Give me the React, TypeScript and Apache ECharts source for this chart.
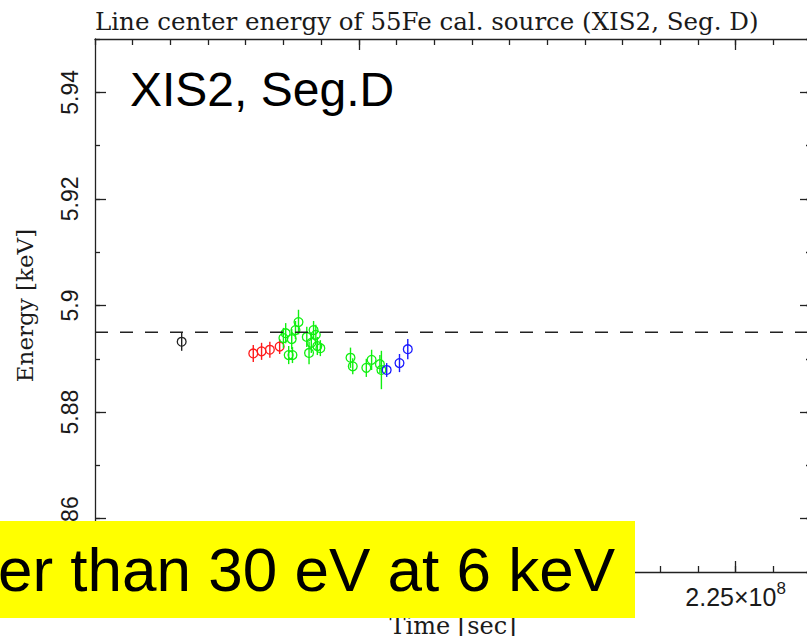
import React, { useEffect, useRef } from "react";
import * as echarts from "echarts";

// ---- data (time in seconds, energy in keV) ----
const blackTime = [217.65e6];
const blackEnergy = [5.8932];
const blackErr = [0.0017];

const redTime = [218.6e6, 218.71e6, 218.82e6, 218.95e6];
const redEnergy = [5.891, 5.8914, 5.8917, 5.8923];
const redErr = [0.0016, 0.0016, 0.0015, 0.0014];

const greenTime = [
  219.0e6, 219.03e6, 219.07e6, 219.11e6, 219.12e6, 219.16e6, 219.2e6, 219.31e6, 219.34e6, 219.37e6,
  219.4e6, 219.43e6, 219.45e6, 219.49e6, 219.89e6, 219.92e6, 220.1e6, 220.17e6, 220.28e6, 220.3e6,
];
const greenEnergy = [
  5.8939, 5.8948, 5.8907, 5.8937, 5.8907, 5.8954, 5.8969, 5.8941, 5.8911, 5.893,
  5.8954, 5.8945, 5.8924, 5.892, 5.8902, 5.8886, 5.8883, 5.8898, 5.889, 5.8879,
];
const greenErr = [
  0.0019, 0.0019, 0.0017, 0.0019, 0.0015, 0.0017, 0.0023, 0.0019, 0.0021, 0.0019,
  0.0017, 0.0019, 0.0017, 0.0015, 0.0019, 0.0015, 0.0017, 0.0019, 0.0017, 0.0036,
];

const blueTime = [220.37e6, 220.54e6, 220.65e6];
const blueEnergy = [5.8879, 5.8892, 5.8918];
const blueErr = [0.0013, 0.0017, 0.0019];

const referenceEnergy = 5.895;
const xMin = 216.5e6;
const xMax = 226e6;
const xMinorStep = 0.5e6;
const xMajorTicks = [220e6, 225e6];
const yMin = 5.85;
const yMax = 5.95;
const yMinorStep = 0.01;
const yMajorTicks = [5.86, 5.88, 5.9, 5.92, 5.94];

const titleText = "Line center energy of 55Fe cal. source (XIS2, Seg. D)";
const panelText = "XIS2, Seg.D";
const bannerText = "er than 30 eV at 6 keV";

const AXIS_COLOR = "#222";
const SERIF = "'DejaVu Serif', serif";
const SANS = "'Liberation Sans', Arial, sans-serif";

function rows(t: number[], e: number[], err: number[]) {
  return t.map((v, i) => [v, e[i], err[i]]);
}

function errSeries(name: string, color: string, data: number[][]) {
  return {
    type: "custom",
    name,
    xAxisIndex: 0,
    yAxisIndex: 0,
    encode: { x: 0, y: 1 },
    data,
    renderItem: (_params: any, api: any) => {
      const x = api.value(0);
      const y = api.value(1);
      const e = api.value(2);
      const c = api.coord([x, y]);
      const top = api.coord([x, y + e]);
      const bot = api.coord([x, y - e]);
      return {
        type: "group",
        children: [
          {
            type: "line",
            shape: { x1: c[0], y1: top[1], x2: c[0], y2: bot[1] },
            style: { stroke: color, lineWidth: 1.4 },
          },
          {
            type: "circle",
            shape: { cx: c[0], cy: c[1], r: 4.4 },
            style: { fill: "none", stroke: color, lineWidth: 1.3 },
          },
        ],
      };
    },
  };
}

export default function App() {
  const ref = useRef<HTMLDivElement>(null);
  useEffect(() => {
    if (!ref.current) return;
    const chart = echarts.init(ref.current, undefined, { renderer: "svg" });
    const baseX = {
      type: "value",
      min: xMin,
      max: xMax,
      splitLine: { show: false },
    };
    const baseY = {
      type: "value",
      min: yMin,
      max: yMax,
      splitLine: { show: false },
    };
    const line = { show: true, lineStyle: { color: AXIS_COLOR, width: 1.3 } };
    chart.setOption({
      animation: false,
      backgroundColor: "#fff",
      title: {
        text: titleText,
        left: 95,
        top: 9,
        padding: 0,
        textStyle: { fontFamily: SERIF, fontSize: 24.5, fontWeight: "normal", color: "#1a1a1a" },
      },
      grid: { left: 95, top: 39, right: 1, bottom: 64, containLabel: false, outerBoundsMode: "none" },
      xAxis: [
        {
          ...baseX,
          position: "bottom",
          interval: xMinorStep,
          axisLine: line,
          axisTick: { show: true, inside: true, length: 6, lineStyle: { color: AXIS_COLOR, width: 1.3 } },
          axisLabel: {
            margin: 12,
            fontSize: 25,
            fontFamily: SANS,
            color: "#1a1a1a",
            formatter: (v: number) => {
              if (!xMajorTicks.some((m) => Math.abs(m - v) < 1)) return "";
              const mant = parseFloat((v / 1e8).toFixed(3));
              return "{a|" + mant + "×10}{b|8}";
            },
            rich: {
              a: { fontFamily: SANS, fontSize: 25, lineHeight: 25, color: "#1a1a1a", verticalAlign: "bottom" },
              b: { fontFamily: SANS, fontSize: 17, lineHeight: 17, color: "#1a1a1a", padding: [0, 0, 12, 0], verticalAlign: "bottom" },
            },
          },
          name: "Time [sec]",
          nameLocation: "middle",
          nameGap: 41,
          nameTextStyle: { fontFamily: SERIF, fontSize: 24, color: "#1a1a1a" },
        },
        {
          ...baseX,
          position: "bottom",
          axisLine: { show: false },
          axisTick: { show: true, inside: true, length: 11, customValues: xMajorTicks, lineStyle: { color: AXIS_COLOR, width: 1.3 } },
          axisLabel: { show: false },
        },
        {
          ...baseX,
          position: "top",
          interval: xMinorStep,
          axisLine: line,
          axisTick: { show: true, inside: true, length: 6, lineStyle: { color: AXIS_COLOR, width: 1.3 } },
          axisLabel: { show: false },
        },
        {
          ...baseX,
          position: "top",
          axisLine: { show: false },
          axisTick: { show: true, inside: true, length: 11, customValues: xMajorTicks, lineStyle: { color: AXIS_COLOR, width: 1.3 } },
          axisLabel: { show: false },
        },
      ],
      yAxis: [
        {
          ...baseY,
          position: "left",
          interval: yMinorStep,
          axisLine: line,
          axisTick: { show: true, inside: true, length: 5, lineStyle: { color: AXIS_COLOR, width: 1.3 } },
          axisLabel: {
            rotate: 90,
            margin: 14,
            fontFamily: SANS,
            fontSize: 23,
            color: "#1a1a1a",
            formatter: (v: number) => {
              const r = Math.round(v * 100);
              if (r % 2 !== 0) return "";
              return String(parseFloat(v.toFixed(2)));
            },
          },
          name: "Energy [keV]",
          nameLocation: "middle",
          nameRotate: 90,
          nameGap: 59,
          nameTextStyle: { fontFamily: SERIF, fontSize: 23, color: "#1a1a1a" },
        },
        {
          ...baseY,
          position: "left",
          axisLine: { show: false },
          axisTick: { show: true, inside: true, length: 11, customValues: yMajorTicks, lineStyle: { color: AXIS_COLOR, width: 1.3 } },
          axisLabel: { show: false },
        },
        {
          ...baseY,
          position: "right",
          interval: yMinorStep,
          axisLine: line,
          axisTick: { show: true, inside: true, length: 5, lineStyle: { color: AXIS_COLOR, width: 1.3 } },
          axisLabel: { show: false },
        },
        {
          ...baseY,
          position: "right",
          axisLine: { show: false },
          axisTick: { show: true, inside: true, length: 11, customValues: yMajorTicks, lineStyle: { color: AXIS_COLOR, width: 1.3 } },
          axisLabel: { show: false },
        },
      ],
      series: [
        {
          type: "line",
          name: "reference",
          xAxisIndex: 0,
          yAxisIndex: 0,
          data: [
            [xMin, referenceEnergy],
            [xMax, referenceEnergy],
          ],
          symbol: "none",
          lineStyle: { color: "#222", width: 1.5, type: [13, 12] },
          silent: true,
        },
        errSeries("black", "#222222", rows(blackTime, blackEnergy, blackErr)),
        errSeries("red", "#ff1a1a", rows(redTime, redEnergy, redErr)),
        errSeries("green", "#10f010", rows(greenTime, greenEnergy, greenErr)),
        errSeries("blue", "#1a1aff", rows(blueTime, blueEnergy, blueErr)),
      ],
      graphic: [
        {
          type: "text",
          x: 130,
          y: 89.5,
          z: 100,
          style: { text: panelText, fontFamily: SANS, fontSize: 48, fill: "#000", verticalAlign: "middle", align: "left" },
        },
        {
          type: "rect",
          z: 100,
          shape: { x: 0, y: 521, width: 635, height: 97 },
          style: { fill: "#ffff00" },
        },
        {
          type: "text",
          x: 615,
          y: 569,
          z: 101,
          style: { text: bannerText, fontFamily: SANS, fontSize: 62, fill: "#000", verticalAlign: "middle", align: "right" },
        },
      ],
    });
    return () => chart.dispose();
  }, []);
  return (
    <div style={{ position: "absolute", left: 0, top: 0, width: 807, height: 636, overflow: "hidden" }}>
      <div ref={ref} style={{ width: 812, height: 636 }} />
    </div>
  );
}
